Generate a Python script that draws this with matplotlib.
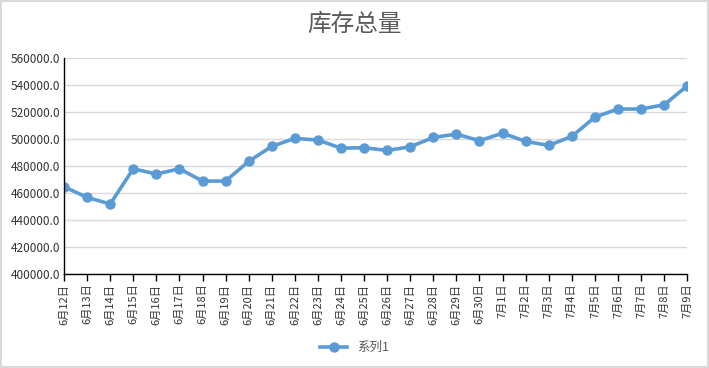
import matplotlib
matplotlib.use("Agg")
import matplotlib.pyplot as plt
from matplotlib.patches import Rectangle
from matplotlib.ticker import FuncFormatter, MultipleLocator

plt.rcParams['font.family'] = ['Noto Sans CJK SC', 'DejaVu Sans']

dates = ["6月12日", "6月13日", "6月14日", "6月15日", "6月16日", "6月17日", "6月18日",
         "6月19日", "6月20日", "6月21日", "6月22日", "6月23日", "6月24日", "6月25日",
         "6月26日", "6月27日", "6月28日", "6月29日", "6月30日", "7月1日", "7月2日",
         "7月3日", "7月4日", "7月5日", "7月6日", "7月7日", "7月8日", "7月9日"]
inventory = [464700, 456800, 451900, 478000, 474100, 478000, 468900,
             468900, 483500, 494600, 500500, 499300, 493300, 493600,
             491600, 494300, 501200, 503700, 498800, 504400, 498300,
             495300, 502000, 516300, 522300, 522300, 525400, 539500]
series_name = "系列1"
title = "库存总量"

fig = plt.figure(figsize=(7.09, 3.68), dpi=100)
fig.patches.append(Rectangle((0.001, 0.002), 0.997, 0.996, transform=fig.transFigure,
                             fill=False, edgecolor='#d9d9d9', linewidth=1.5))
ax = fig.add_axes([0.0903, 0.2554, 0.879, 0.5866])

x = list(range(len(dates)))
color = '#5B9BD5'
ax.plot(x, inventory, color=color, linewidth=2.6, marker='o', markersize=6.5,
        label=series_name)

ax.set_xlim(0, len(dates) - 1)
ax.set_ylim(400000, 560000)
ax.yaxis.set_major_locator(MultipleLocator(20000))
ax.yaxis.set_major_formatter(FuncFormatter(lambda v, p: f"{v:.1f}"))
ax.grid(axis='y', color='#d9d9d9', linewidth=1)
ax.set_axisbelow(True)

ax.set_xticks(x)
ax.set_xticklabels(dates, rotation=90, fontsize=8, color='#333333')
for lbl in ax.get_xticklabels():
    lbl.set_va('top')
    lbl.set_ha('center')
ax.tick_params(axis='x', length=5, width=1, color='black', direction='out', pad=2)
ax.tick_params(axis='y', length=0, labelsize=8.5, labelcolor='#333333', pad=3)

for s in ['top', 'right']:
    ax.spines[s].set_visible(False)
ax.spines['left'].set_color('black')
ax.spines['bottom'].set_color('black')
ax.spines['left'].set_linewidth(1)
ax.spines['bottom'].set_linewidth(1)

fig.text(0.5, 0.935, title, ha='center', va='center', fontsize=17,
         fontweight='medium', color='#595959')

fig.legend(loc='center', bbox_to_anchor=(0.5, 0.055), frameon=False,
           fontsize=9, handlelength=2.2, labelcolor='#595959')

fig.savefig("out.png", dpi=100)
